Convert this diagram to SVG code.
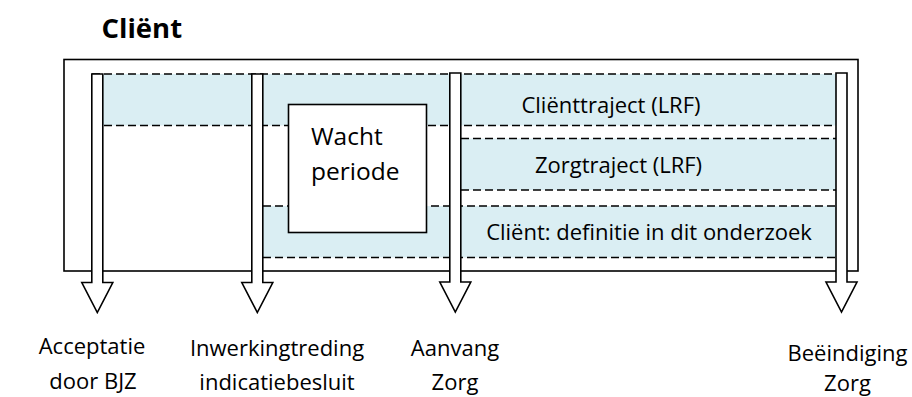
<svg xmlns="http://www.w3.org/2000/svg" width="912" height="397" viewBox="0 0 912 397">
<style>
  text { font-family: "Open Sans", "Noto Sans", "DejaVu Sans", sans-serif; fill: #000; }
  .lbl { font-size: 22px; text-anchor: middle; }
  .title { font-size: 27.5px; font-weight: bold; }
  .band { fill: #DAEEF3; stroke: none; }
  .dash { stroke: #000; stroke-width: 1.6; stroke-dasharray: 8 4; fill: none; }
  .frame { fill: none; stroke: #000; stroke-width: 1.6; }
  .box { fill: #fff; stroke: #000; stroke-width: 1.6; }
  .arrow { fill: #fff; stroke: #000; stroke-width: 1.6; stroke-linejoin: miter; }
</style>
<rect x="0" y="0" width="912" height="397" fill="#fff"/>
<text class="title" x="101.5" y="37.5">Cliënt</text>

<g id="frame">
  <rect class="frame" x="64" y="59.5" width="794" height="211.5"/>
</g>

<g id="band-clienttraject">
  <rect class="band" x="92" y="74" width="750" height="51.5"/>
  <line class="dash" x1="92" y1="74" x2="847" y2="74"/>
  <line class="dash" x1="92" y1="125.5" x2="847" y2="125.5"/>
  <text class="lbl" x="611" y="113">Cliënttraject (LRF)</text>
</g>

<g id="band-zorgtraject">
  <rect class="band" x="456" y="138.5" width="386" height="51.5"/>
  <line class="dash" x1="461" y1="138.5" x2="841" y2="138.5"/>
  <line class="dash" x1="461" y1="190" x2="841" y2="190"/>
  <text class="lbl" x="618.5" y="173">Zorgtraject (LRF)</text>
</g>

<g id="band-client-definitie">
  <rect class="band" x="257" y="206" width="585" height="51.5"/>
  <line class="dash" x1="263" y1="206" x2="841" y2="206"/>
  <line class="dash" x1="263" y1="257.5" x2="841" y2="257.5"/>
  <text class="lbl" x="649" y="240">Cliënt: definitie in dit onderzoek</text>
</g>

<g id="wachtperiode">
  <rect class="box" x="288.5" y="104.5" width="138" height="128"/>
  <text x="311" y="145" font-size="24.5">Wacht</text>
  <text x="311" y="179.5" font-size="24.5">periode</text>
</g>

<g id="connectors">
  <path class="arrow" d="M91.8,74 H102.8 V282.5 H112.8 L97.3,312.5 L81.8,282.5 H91.8 Z"/>
  <path class="arrow" d="M251.8,74 H262.8 V282.5 H272.8 L257.3,312.5 L241.8,282.5 H251.8 Z"/>
  <path class="arrow" d="M449.8,73 H460.8 V282 H470.8 L455.3,312 L439.8,282 H449.8 Z"/>
  <path class="arrow" d="M836,73 H847 V282 H857 L841.5,312 L826,282 H836 Z"/>
</g>

<g id="label-acceptatie">
  <text class="lbl" x="92" y="354">Acceptatie</text>
  <text class="lbl" x="93" y="389">door BJZ</text>
</g>
<g id="label-inwerkingtreding">
  <text class="lbl" x="277" y="356">Inwerkingtreding</text>
  <text class="lbl" x="277" y="390">indicatiebesluit</text>
</g>
<g id="label-aanvang">
  <text class="lbl" x="455" y="356">Aanvang</text>
  <text class="lbl" x="455" y="390">Zorg</text>
</g>
<g id="label-beeindiging">
  <text class="lbl" x="847.5" y="361">Beëindiging</text>
  <text class="lbl" x="847.5" y="391">Zorg</text>
</g>
</svg>
